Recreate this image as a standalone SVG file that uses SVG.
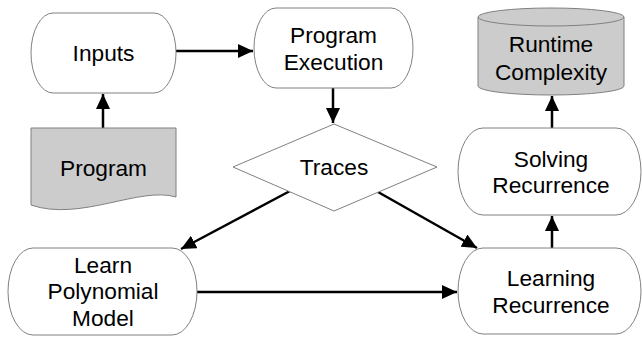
<svg xmlns="http://www.w3.org/2000/svg" width="642" height="339" viewBox="0 0 642 339">
  <style>
    .box { fill: #ffffff; stroke: #808080; stroke-width: 1; }
    .grey { fill: #cccccc; stroke: #808080; stroke-width: 1; }
    .label { font-family: "Liberation Sans", Arial, sans-serif; font-size: 22.7px; fill: #000000; text-anchor: middle; }
    .edge { fill: none; stroke: #000000; stroke-width: 2.5; marker-end: url(#arrow); }
  </style>
  <defs>
    <marker id="arrow" markerUnits="userSpaceOnUse" markerWidth="16" markerHeight="14" refX="15" refY="7" orient="auto">
      <path d="M0,0 L15,7 L0,14 Z" fill="#000000"/>
    </marker>
  </defs>
  <rect width="642" height="339" fill="#ffffff"/>

  <g id="connectors">
    <line class="edge" x1="176" y1="51" x2="253" y2="51"/>
    <line class="edge" x1="103" y1="128" x2="103" y2="94"/>
    <line class="edge" x1="333" y1="88" x2="333" y2="123"/>
    <line class="edge" x1="290" y1="191" x2="181" y2="249"/>
    <line class="edge" x1="378" y1="192" x2="477" y2="248"/>
    <line class="edge" x1="197" y1="292" x2="457" y2="292"/>
    <line class="edge" x1="552" y1="248" x2="552" y2="216"/>
    <line class="edge" x1="552" y1="128" x2="552" y2="96"/>
  </g>

  <g id="inputs">
    <rect class="box" x="31" y="13" width="145" height="80" rx="22" ry="40"/>
    <text class="label" x="103.5" y="61">Inputs</text>
  </g>

  <g id="program-execution">
    <rect class="box" x="254" y="8" width="159" height="80" rx="22" ry="40"/>
    <text class="label" x="333.5" y="43">Program</text>
    <text class="label" x="333.5" y="70">Execution</text>
  </g>

  <g id="program">
    <path class="grey" d="M31,128 H176 V197 C140,186 80,222 31,205 Z"/>
    <text class="label" x="103.5" y="176">Program</text>
  </g>

  <g id="traces">
    <polygon class="box" points="334,124 437,167 334,211 233,167"/>
    <text class="label" x="334" y="175">Traces</text>
  </g>

  <g id="runtime-complexity">
    <path class="grey" d="M478,17 A73,9 0 0 1 624,17 V86 A73,9 0 0 1 478,86 Z"/>
    <path fill="none" stroke="#808080" stroke-width="1" d="M478,17 A73,9 0 0 0 624,17"/>
    <text class="label" x="551" y="52">Runtime</text>
    <text class="label" x="551" y="80">Complexity</text>
  </g>

  <g id="solving-recurrence">
    <rect class="box" x="458" y="128" width="183" height="87" rx="25" ry="43.5"/>
    <text class="label" x="551" y="167">Solving</text>
    <text class="label" x="551" y="193">Recurrence</text>
  </g>

  <g id="learning-recurrence">
    <rect class="box" x="458" y="248" width="183" height="86" rx="25" ry="43"/>
    <text class="label" x="551" y="286">Learning</text>
    <text class="label" x="551" y="313">Recurrence</text>
  </g>

  <g id="learn-polynomial-model">
    <rect class="box" x="8" y="248" width="189" height="87" rx="25" ry="43.5"/>
    <text class="label" x="103" y="273">Learn</text>
    <text class="label" x="103" y="299">Polynomial</text>
    <text class="label" x="103" y="326">Model</text>
  </g>
</svg>
